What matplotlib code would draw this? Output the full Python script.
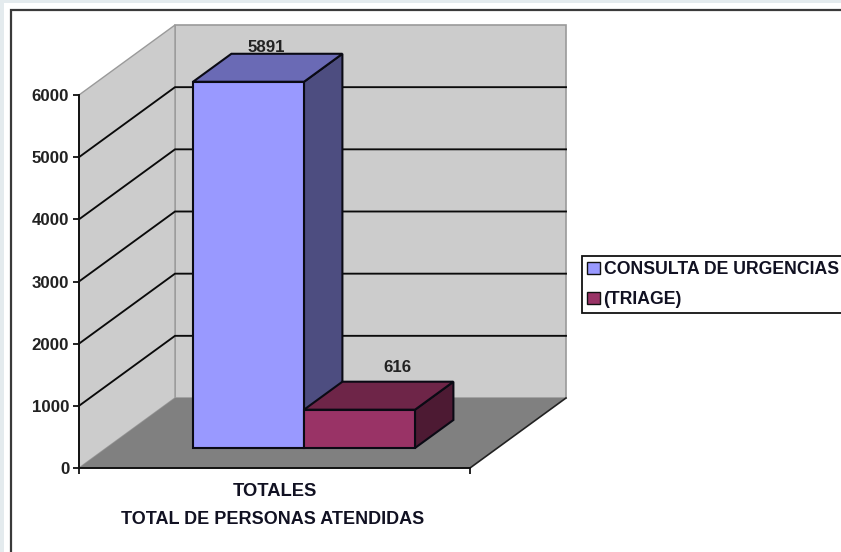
import matplotlib
matplotlib.use("Agg")
import matplotlib.pyplot as plt
from matplotlib.patches import Polygon, Patch, Rectangle

series_names = ["CONSULTA DE URGENCIAS", "(TRIAGE)"]
series_values = [5891, 616]
front_colors = ["#9999ff", "#993366"]
top_colors = ["#6a6ab5", "#6e2548"]
side_colors = ["#4d4d80", "#4d1a33"]
y_ticks = [0, 1000, 2000, 3000, 4000, 5000, 6000]
category = "TOTALES"
x_title = "TOTAL DE PERSONAS ATENDIDAS"
label_offsets = [(-15, -1), (0, 4.5)]

W, H = 841, 552
plt.rcParams["font.family"] = ["Liberation Sans", "DejaVu Sans"]
FS = 12.2
fig = plt.figure(figsize=(W / 100, H / 100), dpi=100, facecolor="#e4ebee")

# chart frame (figure pixels)
fig.add_artist(Rectangle((4 / W, 0), 1, 1 - 3 / H, transform=fig.transFigure, fc="white",
                         ec="none", zorder=-2))
fig.add_artist(Rectangle((11 / W, -0.05), 1, 1.05 - 10 / H, transform=fig.transFigure,
                         fc="white", ec="#3a3a3a", lw=1.6, zorder=-1))

# axes is the front plane of the 3D box
ax = fig.add_axes([79 / W, 1 - 468 / H, 391 / W, 373 / H])
ax.set_xlim(0, 1)
ax.set_ylim(0, 6000)
ax.patch.set_alpha(0)

DX = 96 / 391        # full depth in x (axes units)
DV = 70 / 373 * 6000  # full depth in value units


def P(x, v, d):
    return (x + d * DX, v + d * DV)


def poly(pts, fc, ec="none", lw=0.0, z=1):
    ax.add_patch(Polygon(pts, closed=True, fc=fc, ec=ec, lw=lw, zorder=z, clip_on=False,
                         joinstyle="miter"))


top = y_ticks[-1]
# walls and floor
poly([P(0, 0, 1), P(1, 0, 1), P(1, top, 1), P(0, top, 1)], "#cccccc", "#9a9a9a", 1.2, 1)
poly([P(0, 0, 0), P(0, 0, 1), P(0, top, 1), P(0, top, 0)], "#cccccc", "#9a9a9a", 1.0, 1)
poly([P(0, 0, 0), P(1, 0, 0), P(1, 0, 1), P(0, 0, 1)], "#808080", "none", 0, 2)
ax.plot(*zip(P(1, 0, 0), P(1, 0, 1)), color="#222222", lw=1.2, clip_on=False, zorder=2.5)

# gridlines
for t in y_ticks[1:-1]:
    ax.plot(*zip(P(0, t, 0), P(0, t, 1), P(1, t, 1)), color="#0a0a0a", lw=1.35,
            clip_on=False, zorder=3, solid_joinstyle="miter")

# bars
d0, d1 = 20 / 70, 48 / 70
x_start = (193 - 79 - d0 * 96) / 391
bar_w = 111 / 391
for i, (v, fc, tc, sc) in enumerate(zip(series_values, front_colors, top_colors, side_colors)):
    a = x_start + i * bar_w
    b = a + bar_w
    z = 4 + i
    ek = dict(ec="#0a0a14", lw=1.5, z=z)
    poly([P(b, 0, d0), P(b, 0, d1), P(b, v, d1), P(b, v, d0)], sc, **ek)
    poly([P(a, v, d0), P(b, v, d0), P(b, v, d1), P(a, v, d1)], tc, **ek)
    poly([P(a, 0, d0), P(b, 0, d0), P(b, v, d0), P(a, v, d0)], fc, **ek)
    lx, ly = P((a + b) / 2, v, d1)
    ax.annotate(str(v), (lx, ly), xytext=label_offsets[i], textcoords="offset points", ha="center",
                va="bottom", fontsize=FS, fontweight="bold", color="#222222",
                annotation_clip=False, zorder=8)

# axes decoration
for s in ("top", "right"):
    ax.spines[s].set_visible(False)
for s in ("left", "bottom"):
    ax.spines[s].set_color("#111111")
    ax.spines[s].set_linewidth(1.4)
    ax.spines[s].set_zorder(6)
ax.set_yticks(y_ticks)
ax.set_yticklabels([str(t) for t in y_ticks], fontsize=FS, fontweight="bold", color="#222222")
ax.set_xticks([0, 1])
ax.set_xticklabels(["", ""])
ax.tick_params(axis="both", length=4.5, width=1.3, color="#111111", pad=2.5)
ax.text(0.5, -23 / 373, category, transform=ax.transAxes, ha="center", va="center",
        fontsize=13.2, fontweight="bold", color="#111122")
ax.text(0.495, -51 / 373, x_title, transform=ax.transAxes, ha="center", va="center",
        fontsize=13.0, fontweight="bold", color="#111122")

# legend
handles = [Patch(fc=c, ec="#111111", lw=1.0) for c in front_colors]
leg = fig.legend(handles, series_names, loc="upper left", bbox_to_anchor=(582 / W, 1 - 256 / H),
                 bbox_transform=fig.transFigure, prop=dict(size=12.7, weight="bold"), frameon=True,
                 fancybox=False, handlelength=0.72, handleheight=0.65, handletextpad=0.2,
                 labelspacing=0.72, borderpad=0.3, borderaxespad=0, edgecolor="#111111",
                 framealpha=1)
leg.get_frame().set_linewidth(1.3)
for t in leg.get_texts():
    t.set_color("#111122")

fig.savefig("out.png", dpi=100, facecolor=fig.get_facecolor())
